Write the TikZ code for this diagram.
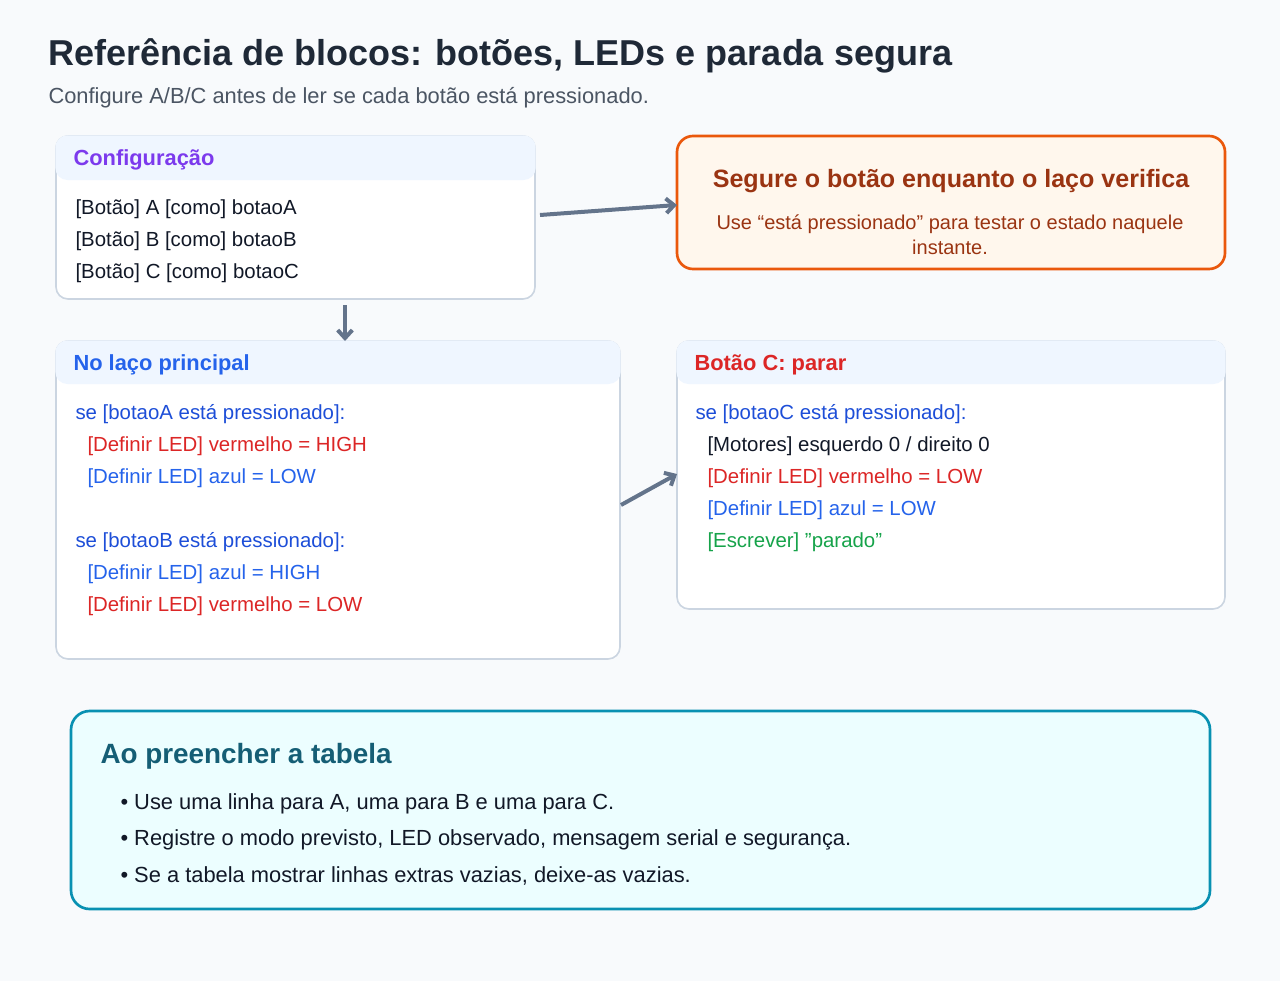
\documentclass[tikz,border=0pt]{standalone}
\usepackage{fontspec}
\setmainfont{Liberation Sans}
\usetikzlibrary{arrows.meta}
\definecolor{pagebg}{HTML}{F8FAFC}
\definecolor{titlecol}{HTML}{1F2937}
\definecolor{subcol}{HTML}{4B5563}
\definecolor{boxline}{HTML}{CBD5E1}
\definecolor{hdrfill}{HTML}{EFF6FF}
\definecolor{purplecol}{HTML}{7C3AED}
\definecolor{bluehd}{HTML}{2563EB}
\definecolor{bluecode}{HTML}{1D4ED8}
\definecolor{redcode}{HTML}{DC2626}
\definecolor{greencode}{HTML}{16A34A}
\definecolor{inkcol}{HTML}{111827}
\definecolor{orangeline}{HTML}{EA580C}
\definecolor{orangefill}{HTML}{FFF7ED}
\definecolor{orangetxt}{HTML}{9A3412}
\definecolor{tealline}{HTML}{0891B2}
\definecolor{tealfill}{HTML}{ECFEFF}
\definecolor{tealtxt}{HTML}{155E75}
\definecolor{arrowcol}{HTML}{64748B}
\tikzset{every picture/.style={line width=0.75pt}}
\tikzset{
  card/.style={draw=boxline, fill=white, line width=1.2pt, rounded corners=9},
  hdr/.style={fill=hdrfill, rounded corners=9},
  hdrtxt/.style={anchor=west, inner sep=0pt, font=\fontsize{16.4}{19}\selectfont\bfseries},
  line/.style={anchor=west, inner sep=0pt, font=\fontsize{15.3}{18}\selectfont, text=inkcol},
  note/.style={anchor=west, inner sep=0pt, font=\fontsize{16.4}{19}\selectfont, text=inkcol},
  flow/.style={draw=arrowcol, line width=3pt, -{Straight Barb[length=6pt,width=11pt]}},
}

\begin{document}
\begin{tikzpicture}[x=0.75pt,y=0.75pt,yscale=-1,xscale=1]
\fill[pagebg] (0,0) rectangle (1280,981);
\useasboundingbox (0,0) rectangle (1280,981);

% title
\node (title) [anchor=west, inner sep=0pt, text=titlecol, font=\fontsize{27}{31}\selectfont\bfseries] at (48,56) {Referência de blocos: botões, LEDs e parada segura};
\node (sub) [anchor=west, inner sep=0pt, text=subcol, font=\fontsize{16.4}{19}\selectfont] at (48,98) {Configure A/B/C antes de ler se cada botão está pressionado.};

% config box
\draw[card] (56,136) rectangle (535,299);
\fill[hdr] (55.4,135.4) rectangle (535.6,180);
\node (cfg) [hdrtxt, text=purplecol] at (73,159.5) {Configuração};
\node (cfga) [line] at (75,209.5) {[Botão] A [como] botaoA};
\node (cfgb) [line] at (75,241.5) {[Botão] B [como] botaoB};
\node (cfgc) [line] at (75,273.5) {[Botão] C [como] botaoC};
\coordinate (cfgR) at (540,215);
\coordinate (cfgS) at (345,305);

% hint box
\draw[draw=orangeline, fill=orangefill, line width=2pt, rounded corners=12] (677,136) rectangle (1225,269);
\node (hint) [inner sep=0pt, text=orangetxt, font=\fontsize{18.8}{22}\selectfont\bfseries] at (951,181) {Segure o botão enquanto o laço verifica};
\node (hinttxt) [inner sep=0pt, text=orangetxt, align=center, font=\fontsize{15}{18.5}\selectfont] at (950,235) {Use “está pressionado” para testar o estado naquele\\instante.};
\coordinate (hintL) at (677,205);

% loop box
\draw[card] (56,341) rectangle (620,659);
\fill[hdr] (55.4,340.4) rectangle (620.6,384);
\node (loop) [hdrtxt, text=bluehd] at (73,364.5) {No laço principal};
\node (la) [line, text=bluecode] at (75,414.5) {se [botaoA está pressionado]:};
\node (la1) [line, text=redcode] at (87,446.5) {[Definir LED] vermelho = HIGH};
\node (la2) [line, text=bluehd] at (87,478.5) {[Definir LED] azul = LOW};
\node (lb) [line, text=bluecode] at (75,542.5) {se [botaoB está pressionado]:};
\node (lb1) [line, text=bluehd] at (87,574.5) {[Definir LED] azul = HIGH};
\node (lb2) [line, text=redcode] at (87,606.5) {[Definir LED] vermelho = LOW};
\coordinate (loopT) at (345,341);
\coordinate (loopR) at (621,505);

% stop box
\draw[card] (677,341) rectangle (1225,609);
\fill[hdr] (676.4,340.4) rectangle (1225.6,384);
\node (stop) [hdrtxt, text=redcode] at (694,364.5) {Botão C: parar};
\node (sc) [line, text=bluecode] at (695,414.5) {se [botaoC está pressionado]:};
\node (sc1) [line] at (707,446.5) {[Motores] esquerdo 0 / direito 0};
\node (sc2) [line, text=redcode] at (707,478.5) {[Definir LED] vermelho = LOW};
\node (sc3) [line, text=bluehd] at (707,510.5) {[Definir LED] azul = LOW};
\node (sc4) [line, text=greencode] at (707,542.5) {[Escrever] \symbol{34}parado\symbol{34}};
\coordinate (stopL) at (677,474);

% arrows
\draw[flow] (cfgR) -- (hintL);
\draw[flow] (cfgS) -- (loopT);
\draw[flow] (loopR) -- (stopL);

% notes box
\draw[draw=tealline, fill=tealfill, line width=2pt, rounded corners=14] (71,711) rectangle (1210,909);
\node (notes) [anchor=west, inner sep=0pt, text=tealtxt, font=\fontsize{20.9}{25}\selectfont\bfseries] at (100,756) {Ao preencher a tabela};
\node (n1) [note] at (120,804) {• Use uma linha para A, uma para B e uma para C.};
\node (n2) [note] at (120,840) {• Registre o modo previsto, LED observado, mensagem serial e segurança.};
\node (n3) [note] at (120,876) {• Se a tabela mostrar linhas extras vazias, deixe-as vazias.};
\end{tikzpicture}
\end{document}
